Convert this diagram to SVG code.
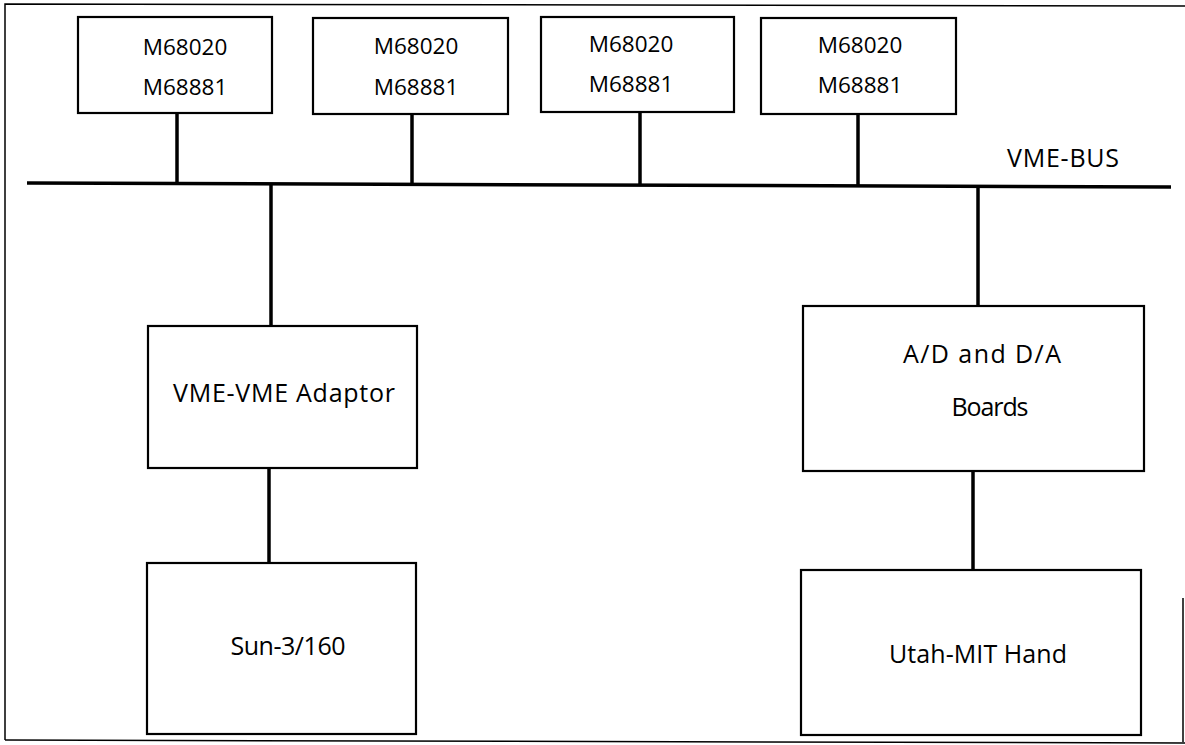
<svg xmlns="http://www.w3.org/2000/svg" width="1185" height="745" viewBox="0 0 1185 745">
<style>
.box{fill:#fff;stroke:#000;stroke-width:2.2}
.t{font-family:"Open Sans","Liberation Sans",sans-serif;font-size:22.5px;fill:#000;text-anchor:middle}
.b{font-family:"Open Sans","Liberation Sans",sans-serif;font-size:25px;fill:#000;text-anchor:middle}
.c{stroke:#000;stroke-width:3.5;fill:none}
.f{stroke:#000;stroke-width:1.5;fill:none}
</style>
<rect width="1185" height="745" fill="#fff"/>
<g id="frame">
<path class="f" d="M5,740 L5,4 L1185,6"/>
<path class="f" d="M5,740 L1185,743"/>
<path class="f" d="M1183,598 L1183,742"/>
</g>
<g id="connectors">
<line class="c" x1="27" y1="183" x2="1171" y2="187" stroke-width="4"/>
<line class="c" x1="177" y1="113" x2="177" y2="184"/>
<line class="c" x1="412" y1="114" x2="412" y2="184"/>
<line class="c" x1="640" y1="112" x2="640" y2="185"/>
<line class="c" x1="858" y1="114" x2="858" y2="186"/>
<line class="c" x1="271" y1="184" x2="271" y2="326"/>
<line class="c" x1="269" y1="468" x2="269" y2="563"/>
<line class="c" x1="978" y1="187" x2="978" y2="306"/>
<line class="c" x1="973" y1="471" x2="973" y2="570"/>
</g>
<g id="cpu1"><rect class="box" x="78" y="17" width="194" height="96"/><text class="t" x="185" y="55">M68020</text><text class="t" x="185" y="95">M68881</text></g>
<g id="cpu2"><rect class="box" x="313" y="18" width="195" height="96"/><text class="t" x="416" y="54">M68020</text><text class="t" x="416" y="95">M68881</text></g>
<g id="cpu3"><rect class="box" x="541" y="17" width="193" height="95"/><text class="t" x="631" y="52">M68020</text><text class="t" x="631" y="92">M68881</text></g>
<g id="cpu4"><rect class="box" x="761" y="18" width="195" height="96"/><text class="t" x="860" y="53">M68020</text><text class="t" x="860" y="93">M68881</text></g>
<g id="vmebus"><text class="b" x="1063" y="167" textLength="112" lengthAdjust="spacing">VME-BUS</text></g>
<g id="adaptor"><rect class="box" x="148" y="326" width="269" height="142"/><text class="b" x="284" y="402" textLength="222" lengthAdjust="spacing">VME-VME Adaptor</text></g>
<g id="sun"><rect class="box" x="147" y="563" width="269" height="171"/><text class="b" x="288" y="655" textLength="115" lengthAdjust="spacing">Sun-3/160</text></g>
<g id="adda"><rect class="box" x="803" y="306" width="341" height="165"/><text class="b" x="982" y="363" textLength="158" lengthAdjust="spacing">A/D and D/A</text><text class="b" x="990" y="416" textLength="77" lengthAdjust="spacing">Boards</text></g>
<g id="hand"><rect class="box" x="801" y="570" width="340" height="165"/><text class="b" x="978" y="663" textLength="178" lengthAdjust="spacing">Utah-MIT Hand</text></g>
</svg>
